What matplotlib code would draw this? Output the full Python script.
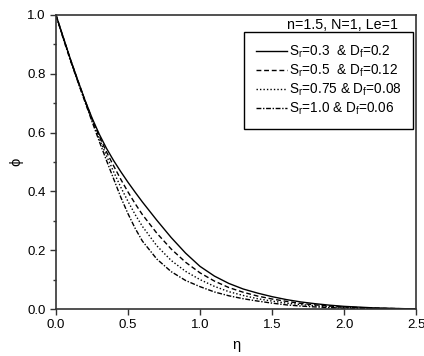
import matplotlib
matplotlib.use('Agg')
import matplotlib.pyplot as plt
from matplotlib.ticker import MultipleLocator

plt.rcParams['font.family'] = ['Liberation Sans', 'DejaVu Sans']
plt.rcParams['mathtext.fontset'] = 'custom'
plt.rcParams['mathtext.rm'] = 'Liberation Sans'
plt.rcParams['mathtext.it'] = 'Liberation Sans:italic'

# eta grid used for all curves
eta = [0.0, 0.05, 0.1, 0.15, 0.2, 0.25, 0.3, 0.35, 0.4, 0.45, 0.5, 0.55, 0.6,
       0.7, 0.8, 0.9, 1.0, 1.1, 1.2, 1.3, 1.4, 1.5, 1.6, 1.7, 1.8, 1.9, 2.0,
       2.2, 2.5]

# phi values
phi_sr03 = [1.0, 0.925, 0.85, 0.78, 0.712, 0.65, 0.595, 0.547, 0.505, 0.467,
            0.431, 0.397, 0.364, 0.302, 0.243, 0.19, 0.145, 0.112, 0.087,
            0.068, 0.054, 0.042, 0.032, 0.024, 0.018, 0.013, 0.009, 0.004, 0.0]
phi_sr05 = [1.0, 0.924, 0.849, 0.779, 0.711, 0.646, 0.588, 0.535, 0.487, 0.441,
            0.398, 0.358, 0.321, 0.258, 0.204, 0.159, 0.123, 0.095, 0.073,
            0.057, 0.044, 0.034, 0.026, 0.019, 0.014, 0.01, 0.007, 0.003, 0.0]
phi_sr075 = [1.0, 0.922, 0.847, 0.777, 0.709, 0.642, 0.58, 0.522, 0.467, 0.414,
             0.366, 0.321, 0.281, 0.215, 0.165, 0.128, 0.1, 0.077, 0.059,
             0.046, 0.035, 0.027, 0.02, 0.015, 0.011, 0.008, 0.005, 0.002, 0.0]
phi_sr10 = [1.0, 0.92, 0.845, 0.775, 0.706, 0.638, 0.571, 0.506, 0.443, 0.38,
            0.324, 0.274, 0.231, 0.17, 0.127, 0.097, 0.076, 0.058, 0.045,
            0.035, 0.027, 0.02, 0.014, 0.01, 0.007, 0.005, 0.003, 0.001, 0.0]

labels = [r'S$_\mathregular{r}$=0.3  & D$_\mathregular{f}$=0.2',
          r'S$_\mathregular{r}$=0.5  & D$_\mathregular{f}$=0.12',
          r'S$_\mathregular{r}$=0.75 & D$_\mathregular{f}$=0.08',
          r'S$_\mathregular{r}$=1.0 & D$_\mathregular{f}$=0.06']

fig = plt.figure(figsize=(4.24, 3.56), dpi=100)
ax = fig.add_axes([56 / 424, 1 - 309 / 356, 360 / 424, 294 / 356])

ax.plot(eta, phi_sr03, color='black', lw=1.0, ls='-', label=labels[0])
ax.plot(eta, phi_sr05, color='black', lw=1.0, ls=(0, (3.5, 2)), label=labels[1])
ax.plot(eta, phi_sr075, color='black', lw=1.0, ls=(0, (1, 1.5)), label=labels[2])
ax.plot(eta, phi_sr10, color='black', lw=1.0, ls=(0, (3.5, 1.2, 1, 1.2)), label=labels[3])

ax.set_xlim(0, 2.5)
ax.set_ylim(0, 1.0)
ax.xaxis.set_major_locator(MultipleLocator(0.5))
ax.yaxis.set_major_locator(MultipleLocator(0.2))
ax.yaxis.set_minor_locator(MultipleLocator(0.1))
ax.tick_params(which='both', direction='out', top=False, right=False,
               labelsize=9.5, color='#333333', width=1)
ax.tick_params(which='major', length=4)
ax.tick_params(which='minor', length=2.5)
for sp in ax.spines.values():
    sp.set_color('#333333')
    sp.set_linewidth(1.2)

ax.set_xlabel('η', fontsize=10.5)
ax.set_ylabel('\u03d5', fontsize=10.5, rotation=90)
ax.xaxis.set_label_coords(0.5, -0.1)
ax.yaxis.set_label_coords(-0.092, 0.5)

ax.text(0.95, 0.965, 'n=1.5, N=1, Le=1', transform=ax.transAxes,
        ha='right', va='center', fontsize=10.3)

leg = ax.legend(loc='upper right', bbox_to_anchor=(0.992, 0.943),
                borderaxespad=0, fancybox=False, edgecolor='black',
                framealpha=1, fontsize=9.8, handlelength=2.3, handletextpad=0.1,
                labelspacing=0.2, borderpad=0.85)
leg.get_frame().set_linewidth(1.0)

fig.savefig('out.png', dpi=100)
